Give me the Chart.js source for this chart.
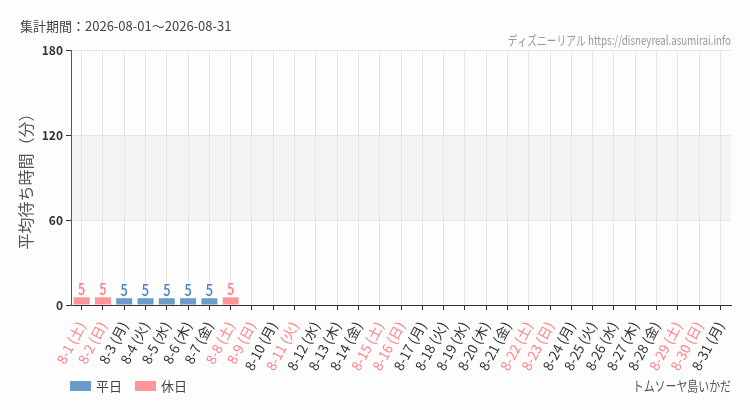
<!DOCTYPE html>
<html>
<head>
<meta charset="utf-8">
<script src="https://cdn.jsdelivr.net/npm/chart.js@4"></script>
<style>
  html, body { margin: 0; padding: 0; background: #fcfdfc; }
  #wrap { width: 750px; height: 410px; position: relative; }
</style>
</head>
<body>
<div id="wrap"><canvas id="chartCanvas" width="750" height="410"></canvas></div>
<script>
const dayLabels = [
  '8-1 (土)', '8-2 (日)', '8-3 (月)', '8-4 (火)', '8-5 (水)', '8-6 (木)', '8-7 (金)',
  '8-8 (土)', '8-9 (日)', '8-10 (月)', '8-11 (火)', '8-12 (水)', '8-13 (木)', '8-14 (金)',
  '8-15 (土)', '8-16 (日)', '8-17 (月)', '8-18 (火)', '8-19 (水)', '8-20 (木)', '8-21 (金)',
  '8-22 (土)', '8-23 (日)', '8-24 (月)', '8-25 (火)', '8-26 (水)', '8-27 (木)', '8-28 (金)',
  '8-29 (土)', '8-30 (日)', '8-31 (月)'
];
// index of holidays (土日祝)
const holidayIdx = [0, 1, 7, 8, 10, 14, 15, 21, 22, 28, 29];

const weekdayWait = [null, null, 4.8, 4.8, 4.8, 4.8, 4.8, null, null, null, null, null, null, null, null, null,
  null, null, null, null, null, null, null, null, null, null, null, null, null, null, null];
const holidayWait = [5.4, 5.4, null, null, null, null, null, 5.4, null, null, null, null, null, null, null, null,
  null, null, null, null, null, null, null, null, null, null, null, null, null, null, null];

const yTicks = [0, 60, 120, 180];

const blue = '#6b9bc9';
const pink = '#ff9499';
const jp = "'Noto Sans CJK JP', 'Noto Sans', sans-serif";

// squeezed text, the original uses a condensed face
function narrowText(ctx, text, x, y, sx) {
  ctx.save();
  ctx.translate(x, y);
  ctx.scale(sx, 1);
  ctx.fillText(text, 0, 0);
  ctx.restore();
}

const bandPlugin = {
  id: 'band',
  beforeDraw(chart) {
    const { ctx, chartArea, scales } = chart;
    const y1 = scales.y.getPixelForValue(120);
    const y2 = scales.y.getPixelForValue(60);
    ctx.save();
    ctx.fillStyle = '#f3f4f3';
    ctx.fillRect(chartArea.left, y1, chartArea.right - chartArea.left, y2 - y1);
    ctx.restore();
  }
};

const labelPlugin = {
  id: 'barLabels',
  afterDatasetsDraw(chart) {
    const ctx = chart.ctx;
    ctx.save();
    ctx.font = '500 16px ' + jp;
    ctx.textAlign = 'center';
    ctx.textBaseline = 'bottom';
    chart.data.datasets.forEach((ds, i) => {
      const meta = chart.getDatasetMeta(i);
      ctx.fillStyle = i === 0 ? '#4c82be' : '#ff7f86';
      meta.data.forEach((bar, j) => {
        const v = ds.data[j];
        if (v === null) return;
        narrowText(ctx, String(Math.round(v)), bar.x, bar.y, 0.8);
      });
    });
    ctx.restore();
  }
};

const textPlugin = {
  id: 'texts',
  afterDraw(chart) {
    const ctx = chart.ctx;
    ctx.save();
    ctx.textBaseline = 'middle';
    ctx.fillStyle = '#444';
    ctx.font = '13px ' + jp;
    ctx.textAlign = 'left';
    ctx.fillText('集計期間：2026-08-01～2026-08-31', 20, 26);

    ctx.fillStyle = '#999';
    ctx.font = '13px ' + jp;
    ctx.textAlign = 'right';
    narrowText(ctx, 'ディズニーリアル https://disneyreal.asumirai.info', 731, 40, 0.75);

    ctx.fillStyle = '#555';
    ctx.font = '14px ' + jp;
    narrowText(ctx, 'トムソーヤ島いかだ', 731, 386, 0.78);

    // legend
    ctx.textAlign = 'left';
    ctx.font = '13px ' + jp;
    ctx.fillStyle = blue;
    ctx.fillRect(70, 381, 21, 10);
    ctx.fillStyle = '#444';
    ctx.fillText(chart.data.datasets[0].label, 96, 386);
    ctx.fillStyle = pink;
    ctx.fillRect(135, 381, 21, 10);
    ctx.fillStyle = '#444';
    ctx.fillText(chart.data.datasets[1].label, 161, 386);
    ctx.restore();
  }
};

const ctx = document.getElementById('chartCanvas').getContext('2d');
new Chart(ctx, {
  type: 'bar',
  data: {
    labels: dayLabels,
    datasets: [
      { label: '平日', data: weekdayWait, backgroundColor: blue },
      { label: '休日', data: holidayWait, backgroundColor: pink }
    ]
  },
  options: {
    responsive: false,
    animation: false,
    layout: { padding: { top: 50, left: 16, right: 19, bottom: 0 } },
    datasets: { bar: { barPercentage: 0.75, categoryPercentage: 1 } },
    plugins: { legend: { display: false }, tooltip: { enabled: false } },
    scales: {
      x: {
        stacked: true,
        grid: { offset: false, color: '#e6e6e6', tickColor: '#333', tickLength: 5 },
        border: { color: '#333' },
        ticks: {
          autoSkip: false,
          minRotation: 62,
          maxRotation: 62,
          padding: 9,
          font: { family: jp, size: 13.5 },
          color: c => holidayIdx.includes(c.index) ? '#ff7f86' : '#333'
        },
        afterFit: s => { s.height = 105; }
      },
      y: {
        min: 0,
        max: 180,
        afterBuildTicks: s => { s.ticks = yTicks.map(v => ({ value: v })); },
        grid: { color: '#e6e6e6', tickColor: '#333', tickLength: 5 },
        border: { color: '#555' },
        ticks: { font: { family: jp, size: 12, weight: 'bold' }, color: '#333', padding: 3 },
        title: { display: true, text: '平均待ち時間（分）', font: { family: jp, size: 16 }, color: '#555', padding: 0 },
        afterFit: s => { s.width = 55; }
      }
    }
  },
  plugins: [bandPlugin, labelPlugin, textPlugin]
});
</script>
</body>
</html>
